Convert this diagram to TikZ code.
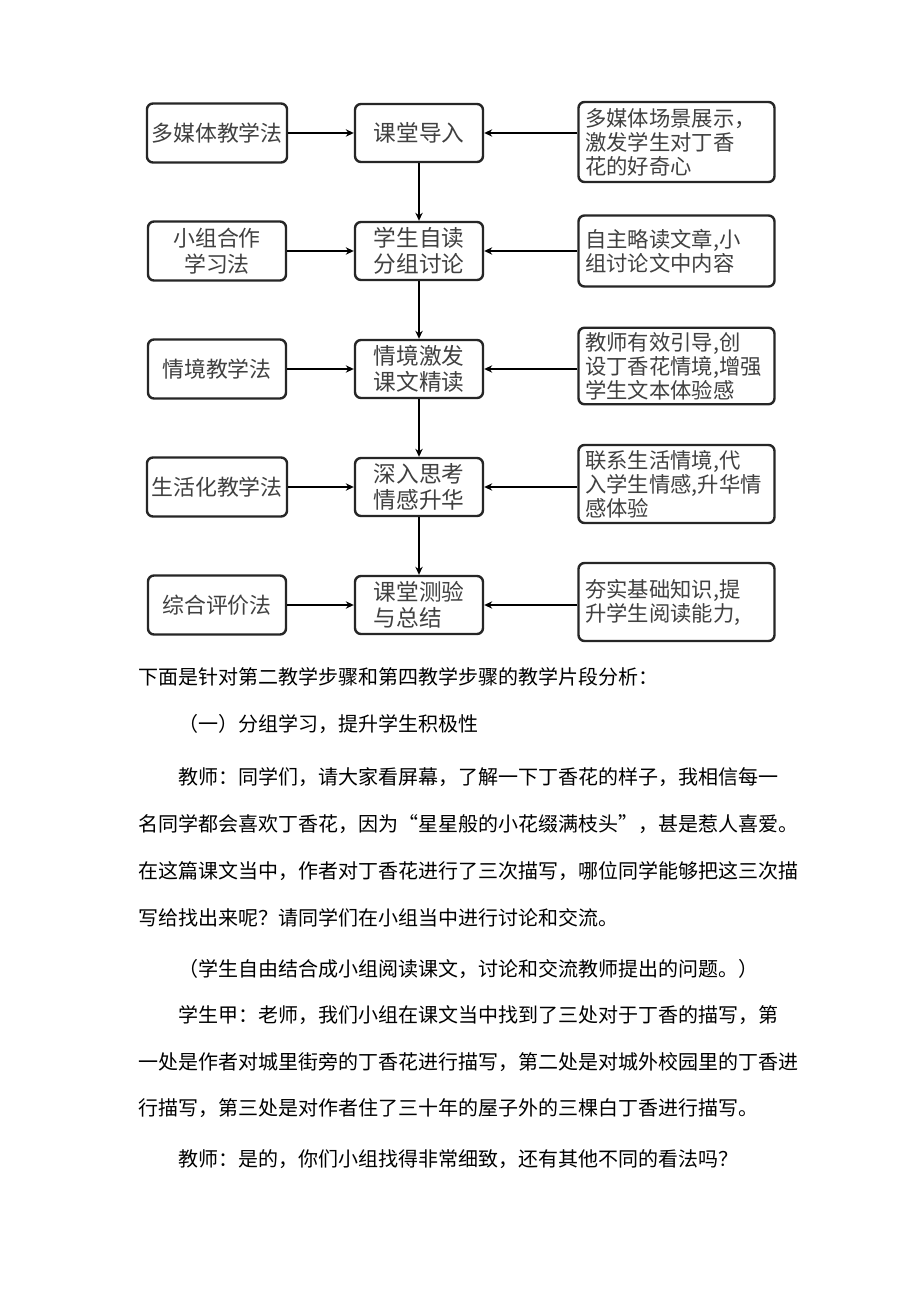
\documentclass[tikz,border=0pt]{standalone}
\usepackage{fontspec}
\newfontfamily\cjk{Noto Sans CJK SC}
\usetikzlibrary{arrows.meta}

\begin{document}
\begin{tikzpicture}[
    x=0.75pt, y=-0.75pt,
    box/.style={draw=black!85, line width=1.8pt, rounded corners=4.5pt, text=black!75},
    way/.style={box, minimum width=103.5pt, minimum height=44.25pt, align=center,
        font=\cjk\fontsize{16.4}{19}\selectfont},
    stage/.style={box, minimum width=96pt, minimum height=43.5pt, align=left,
        font=\cjk\fontsize{17}{19.5}\selectfont},
    note/.style={box, text width=137pt, inner xsep=5pt, align=left,
        font=\cjk\fontsize{16}{18}\selectfont},
    para/.style={anchor=west, inner sep=0pt, font=\cjk\fontsize{15}{18}\selectfont},
    >={Stealth[length=6pt, width=5.5pt]},
    line width=1.6pt
]
    \fill[white] (0,0) rectangle (920,1301);
    \useasboundingbox (0,0) rectangle (920,1301);

    % 左列：教学方法
    \node[way] (L1) at (217, 133) {多媒体教学法};
    \node[way] (L2) at (217, 251) {小组合作\\学习法};
    \node[way] (L3) at (217, 369) {情境教学法};
    \node[way] (L4) at (217, 487) {生活化教学法};
    \node[way] (L5) at (217, 605) {综合评价法};

    % 中列：教学步骤
    \node[stage] (M1) at (419, 133) {课堂导入};
    \node[stage] (M2) at (419, 251) {学生自读\\分组讨论};
    \node[stage] (M3) at (419, 369) {情境激发\\课文精读};
    \node[stage] (M4) at (419, 487) {深入思考\\情感升华};
    \node[stage] (M5) at (419, 605) {课堂测验\\与总结};

    % 右列：步骤说明
    \node[note, minimum height=60pt] (R1) at (676.5, 142) {多媒体场景展示，\\激发学生对丁香\\花的好奇心};
    \node[note, minimum height=53.25pt] (R2) at (676.5, 251) {自主略读文章,小\\组讨论文中内容};
    \node[note, minimum height=57pt] (R3) at (676.5, 366) {教师有效引导,创\\设丁香花情境,增强\\学生文本体验感};
    \node[note, minimum height=58.5pt] (R4) at (676.5, 484) {联系生活情境,代\\入学生情感,升华情\\感体验};
    \node[note, minimum height=58.5pt] (R5) at (676.5, 602) {夯实基础知识,提\\升学生阅读能力,};

    % --- 方法指向步骤 ---
    \draw[->] (L1) -- (M1);
    \draw[->] (L2) -- (M2);
    \draw[->] (L3) -- (M3);
    \draw[->] (L4) -- (M4);
    \draw[->] (L5) -- (M5);

    % --- 说明指向步骤 ---
    \draw[->] (R1.west |- M1) -- (M1);
    \draw[->] (R2.west |- M2) -- (M2);
    \draw[->] (R3.west |- M3) -- (M3);
    \draw[->] (R4.west |- M4) -- (M4);
    \draw[->] (R5.west |- M5) -- (M5);

    % --- 步骤之间 ---
    \draw[->] (M1) -- (M2);
    \draw[->] (M2) -- (M3);
    \draw[->] (M3) -- (M4);
    \draw[->] (M4) -- (M5);

    % 正文
    \node[para] (t1) at (137, 677) {下面是针对第二教学步骤和第四教学步骤的教学片段分析：};
    \node[para] (t2) at (177, 724) {（一）分组学习，提升学生积极性};
    \node[para] (t3) at (177, 777) {教师：同学们，请大家看屏幕，了解一下丁香花的样子，我相信每一};
    \node[para] (t4) at (137, 824) {名同学都会喜欢丁香花，因为“星星般的小花缀满枝头”，甚是惹人喜爱。};
    \node[para] (t5) at (137, 871) {在这篇课文当中，作者对丁香花进行了三次描写，哪位同学能够把这三次描};
    \node[para] (t6) at (137, 918) {写给找出来呢？请同学们在小组当中进行讨论和交流。};
    \node[para] (t7) at (177, 969) {（学生自由结合成小组阅读课文，讨论和交流教师提出的问题。）};
    \node[para] (t8) at (177, 1015) {学生甲：老师，我们小组在课文当中找到了三处对于丁香的描写，第};
    \node[para] (t9) at (137, 1062) {一处是作者对城里街旁的丁香花进行描写，第二处是对城外校园里的丁香进};
    \node[para] (t10) at (137, 1108) {行描写，第三处是对作者住了三十年的屋子外的三棵白丁香进行描写。};
    \node[para] (t11) at (177, 1159) {教师：是的，你们小组找得非常细致，还有其他不同的看法吗？};

\end{tikzpicture}
\end{document}
